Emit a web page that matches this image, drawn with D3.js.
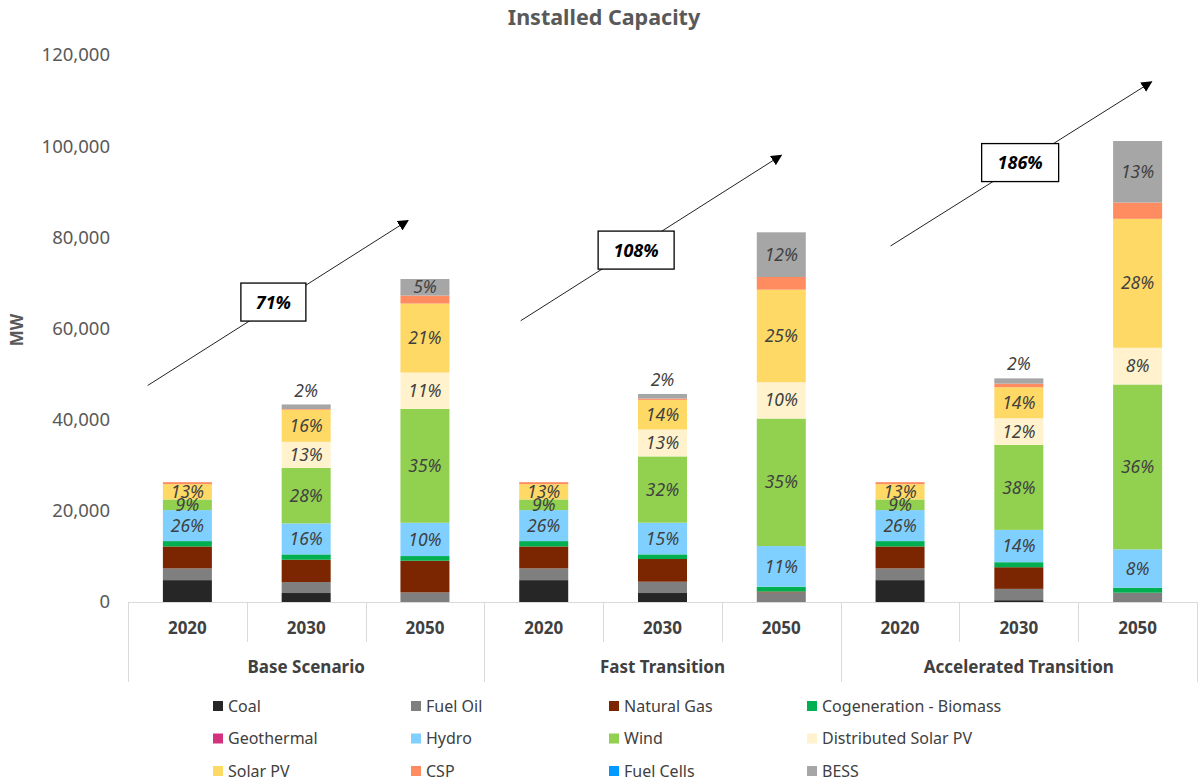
<!DOCTYPE html>
<html>
<head>
<meta charset="utf-8">
<script src="https://cdn.jsdelivr.net/npm/d3@7"></script>
<style>
  html, body { margin: 0; padding: 0; background: #fff; }
  svg { display: block; font-family: "Noto Sans", "Open Sans", sans-serif; }
</style>
</head>
<body>
<svg id="chart" width="1198" height="782"></svg>
<script>
// Scenario groups and study years (one bar per scenario/year)
const scenarios = ["Base Scenario", "Fast Transition", "Accelerated Transition"];
const years = ["2020", "2030", "2050"];

// Installed capacity by technology, MW, in bar order:
// Base 2020, 2030, 2050 | Fast 2020, 2030, 2050 | Accelerated 2020, 2030, 2050
const coal        = [4800, 1970,     0, 4800, 1970,     0, 4800,   400,     0];
const fuelOil     = [2570, 2410,  2100, 2570, 2480,  2100, 2570,  2480,  2040];
const naturalGas  = [4820, 4890,  6950, 4820, 4980,   200, 4820,  4750,     0];
const cogenBio    = [1170, 1170,  1030, 1170, 1020,  1050, 1170,  1100,  1100];
const geothermal  = [   0,    0,     0,    0,    0,     0,    0,     0,     0];
const hydro       = [6800, 6800,  7300, 6800, 6950,  8920, 6800,  7090,  8400];
const wind        = [2340, 12200, 25000, 2340, 14540, 27980, 2340, 18640, 36180];
const distSolarPV = [   0, 5700,  7960,    0, 5900,  7970,    0,  5850,  8050];
const solarPV     = [3350, 7050, 15130, 3350, 6500, 20300, 3350,  6800, 28290];
const csp         = [ 440,  150,  1750,  440,  290,  2780,  440,   800,  3570];
const fuelCells   = [   0,    0,     0,    0,    0,     0,    0,     0,     0];
const bess        = [   0, 1000,  3640,    0, 1000,  9800,    0,  1150, 13500];

const yTicks = [0, 20000, 40000, 60000, 80000, 100000, 120000];

// Growth call-outs: arrow from/to (bar-slot index, MW) with a boxed label
const growthLabels = ["71%", "108%", "186%"];
const arrowFrom = [[0.166, 47500], [3.306, 61700], [6.42, 78100]];
const arrowTo   = [[2.357, 83700], [5.50, 98000], [8.617, 114100]];
const boxAt     = [[1.224, 65800], [4.278, 77200], [7.511, 96400]];
const boxWidth  = [65, 76, 77];

const series = [
  { name: "Coal", values: coal, color: "#262626" },
  { name: "Fuel Oil", values: fuelOil, color: "#7f7f7f" },
  { name: "Natural Gas", values: naturalGas, color: "#7b2600" },
  { name: "Cogeneration - Biomass", values: cogenBio, color: "#00b050" },
  { name: "Geothermal", values: geothermal, color: "#d4317f" },
  { name: "Hydro", values: hydro, color: "#7fcfff", label: true },
  { name: "Wind", values: wind, color: "#92d050", label: true },
  { name: "Distributed Solar PV", values: distSolarPV, color: "#fff2cc", label: true },
  { name: "Solar PV", values: solarPV, color: "#ffd966", label: true },
  { name: "CSP", values: csp, color: "#ff8c61" },
  { name: "Fuel Cells", values: fuelCells, color: "#0099ff" },
  { name: "BESS", values: bess, color: "#a6a6a6", label: true, onTop: true }
];

const bars = [];
scenarios.forEach((s, si) => years.forEach((yr, yi) => bars.push({ scenario: s, year: yr, i: si * 3 + yi })));
const totals = bars.map(b => d3.sum(series, s => s.values[b.i]));

const svg = d3.select("#chart");
const plotLeft = 128, plotRight = 1197, plotTop = 55, plotBottom = 602;

const x = d3.scaleBand().domain(bars.map(b => b.i)).range([plotLeft, plotRight])
  .paddingInner(0.5875).paddingOuter(0.29375);
const step = x.step();
const xs = v => plotLeft + v * step; // fractional slot position
const y = d3.scaleLinear().domain([0, 120000]).range([plotBottom, plotTop]);

// Title
svg.append("text").attr("x", 604).attr("y", 25).attr("text-anchor", "middle")
  .attr("font-size", 21.5).attr("font-weight", "bold").attr("fill", "#595959")
  .text("Installed Capacity");

// Y axis title
svg.append("text").attr("transform", "translate(23,330) rotate(-90)")
  .attr("text-anchor", "middle").attr("font-size", 17).attr("font-weight", "bold")
  .attr("fill", "#595959").text("MW");

// Y axis (labels only)
const yAxis = svg.append("g").attr("transform", `translate(${plotLeft},0)`)
  .call(d3.axisLeft(y).tickValues(yTicks).tickFormat(d3.format(",")).tickSize(0).tickPadding(18));
yAxis.select(".domain").remove();
yAxis.selectAll("text").attr("font-size", 18.5).attr("fill", "#595959")
  .attr("font-family", "'Noto Sans', sans-serif");

// Stacked bars
const stack = d3.stack().keys(series.map((s, k) => k)).value((b, k) => series[k].values[b.i]);
const layers = stack(bars);

layers.forEach((layer, k) => {
  svg.append("g").selectAll("rect").data(layer).join("rect")
    .attr("x", d => x(d.data.i))
    .attr("width", x.bandwidth())
    .attr("y", d => y(d[1]))
    .attr("height", d => Math.max(0, y(d[0]) - y(d[1])))
    .attr("fill", series[k].color);
});

// Percentage share labels
layers.forEach((layer, k) => {
  const s = series[k];
  if (!s.label) return;
  layer.forEach(d => {
    const v = d[1] - d[0];
    if (v <= 0) return;
    const h = y(d[0]) - y(d[1]);
    const total = totals[d.data.i];
    let cy = (y(d[0]) + y(d[1])) / 2;
    if (s.onTop && h < 12) cy = y(total) - 14;
    svg.append("text")
      .attr("x", x(d.data.i) + x.bandwidth() / 2)
      .attr("y", cy).attr("dy", "0.35em")
      .attr("text-anchor", "middle").attr("font-size", 17.5)
      .attr("font-style", "italic").attr("fill", "#404040")
      .text(Math.round(v / total * 100) + "%");
  });
});

// Category axis: baseline, dividers and two-level labels
const axisG = svg.append("g").attr("stroke", "#d9d9d9").attr("stroke-width", 1);
axisG.append("line").attr("x1", plotLeft).attr("x2", plotRight).attr("y1", plotBottom + 0.5).attr("y2", plotBottom + 0.5);
for (let j = 0; j <= bars.length; j++) {
  const xx = Math.round(xs(j)) + 0.5;
  const groupEdge = j % 3 === 0;
  axisG.append("line").attr("x1", xx).attr("x2", xx)
    .attr("y1", plotBottom).attr("y2", groupEdge ? 682 : 642);
}
svg.append("g").selectAll("text").data(bars).join("text")
  .attr("x", b => x(b.i) + x.bandwidth() / 2).attr("y", 634)
  .attr("text-anchor", "middle").attr("font-size", 17).attr("font-weight", "bold")
  .attr("fill", "#404040").text(b => b.year);
svg.append("g").selectAll("text").data(scenarios).join("text")
  .attr("x", (s, si) => xs(si * 3 + 1.5)).attr("y", 673)
  .attr("text-anchor", "middle").attr("font-size", 17).attr("font-weight", "bold")
  .attr("fill", "#404040").text(s => s);

// Growth arrows with boxed labels
svg.append("defs").append("marker").attr("id", "arrowhead")
  .attr("viewBox", "0 0 10 10").attr("refX", 9).attr("refY", 5)
  .attr("markerWidth", 11).attr("markerHeight", 11).attr("markerUnits", "userSpaceOnUse")
  .attr("orient", "auto")
  .append("path").attr("d", "M0,0 L10,5 L0,10 Z").attr("fill", "#000");

growthLabels.forEach((lab, g) => {
  svg.append("line")
    .attr("x1", xs(arrowFrom[g][0])).attr("y1", y(arrowFrom[g][1]))
    .attr("x2", xs(arrowTo[g][0])).attr("y2", y(arrowTo[g][1]))
    .attr("stroke", "#222").attr("stroke-width", 1)
    .attr("marker-end", "url(#arrowhead)");
  const cx = xs(boxAt[g][0]), cy = y(boxAt[g][1]);
  svg.append("rect").attr("x", cx - boxWidth[g] / 2).attr("y", cy - 19)
    .attr("width", boxWidth[g]).attr("height", 38)
    .attr("fill", "#fff").attr("stroke", "#000").attr("stroke-width", 1.3);
  svg.append("text").attr("x", cx).attr("y", cy).attr("dy", "0.36em")
    .attr("text-anchor", "middle").attr("font-size", 18)
    .attr("font-weight", "bold").attr("font-style", "italic").attr("fill", "#000")
    .text(lab);
});

// Legend: 4 columns x 3 rows
const legend = svg.append("g").selectAll("g").data(series).join("g")
  .attr("transform", (s, k) => `translate(${213 + (k % 4) * 198},${706 + Math.floor(k / 4) * 32.5})`);
legend.append("rect").attr("x", 0).attr("y", -5).attr("width", 10).attr("height", 10)
  .attr("fill", s => s.color);
legend.append("text").attr("x", 15).attr("dy", "0.35em").attr("font-size", 16)
  .attr("fill", "#404040").text(s => s.name);
</script>
</body>
</html>
